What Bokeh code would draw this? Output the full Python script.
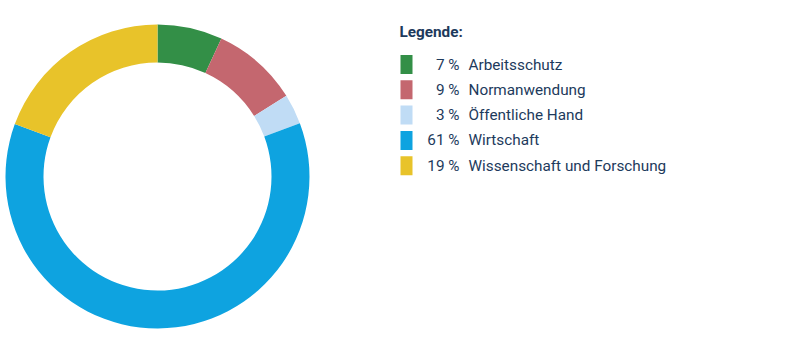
from bokeh.plotting import figure
from bokeh.models import Range1d, ColumnDataSource
from bokeh.core.properties import value
from bokeh.embed import file_html
from bokeh.resources import INLINE
import math

# Data
categories = ["Arbeitsschutz", "Normanwendung", "Öffentliche Hand", "Wirtschaft", "Wissenschaft und Forschung"]
shares = [6.9, 9.2, 3.2, 61.3, 19.4]
pct_labels = ["7 %", "9 %", "3 %", "61 %", "19 %"]
colors = ["#338f47", "#c4676f", "#c0dcf5", "#0ea3e0", "#e8c32a"]
legend_title = "Legende:"

W, H = 801, 351
TXT = "#1d3a5c"
FONT = "Roboto"
FS = "15.3px"

p = figure(width=W, height=H, output_backend="svg", toolbar_location=None,
           x_range=Range1d(0, W), y_range=Range1d(0, H), min_border=0,
           outline_line_color=None)
p.axis.visible = False
p.grid.visible = False
p.background_fill_color = "white"
p.border_fill_color = "white"

total = sum(shares)
starts, ends = [], []
cum = 0.0
for s in shares:
    starts.append(math.pi / 2 - 2 * math.pi * cum / total)
    cum += s
    ends.append(math.pi / 2 - 2 * math.pi * cum / total)

cx, cy = 157, H - 176
src = ColumnDataSource(dict(start=starts, end=ends, color=colors))
p.annular_wedge(x=cx, y=cy, inner_radius=114, outer_radius=152,
                start_angle="start", end_angle="end", direction="clock",
                fill_color="color", line_color=None, source=src)

# Legend
lx = 400
row0 = H - 64
step = 25.3
ys = [row0 - i * step for i in range(len(categories))]
leg = ColumnDataSource(dict(y=ys, color=colors, pct=pct_labels, cat=categories))
p.rect(x=lx + 6, y="y", width=12, height=19, fill_color="color", line_color=None, source=leg)
p.text(x=459, y="y", text="pct", text_align="right", text_baseline="middle",
       text_font=value(FONT), text_font_size=FS, text_color=TXT, source=leg)
p.text(x=468, y="y", text="cat", text_align="left", text_baseline="middle",
       text_font=value(FONT), text_font_size=FS, text_color=TXT, source=leg)
p.text(x=[399], y=[H - 31], text=[legend_title], text_align="left", text_baseline="middle",
       text_font=value(FONT), text_font_size=FS, text_font_style="bold", text_color=TXT)

open("out.html", "w").write(file_html(p, INLINE))
